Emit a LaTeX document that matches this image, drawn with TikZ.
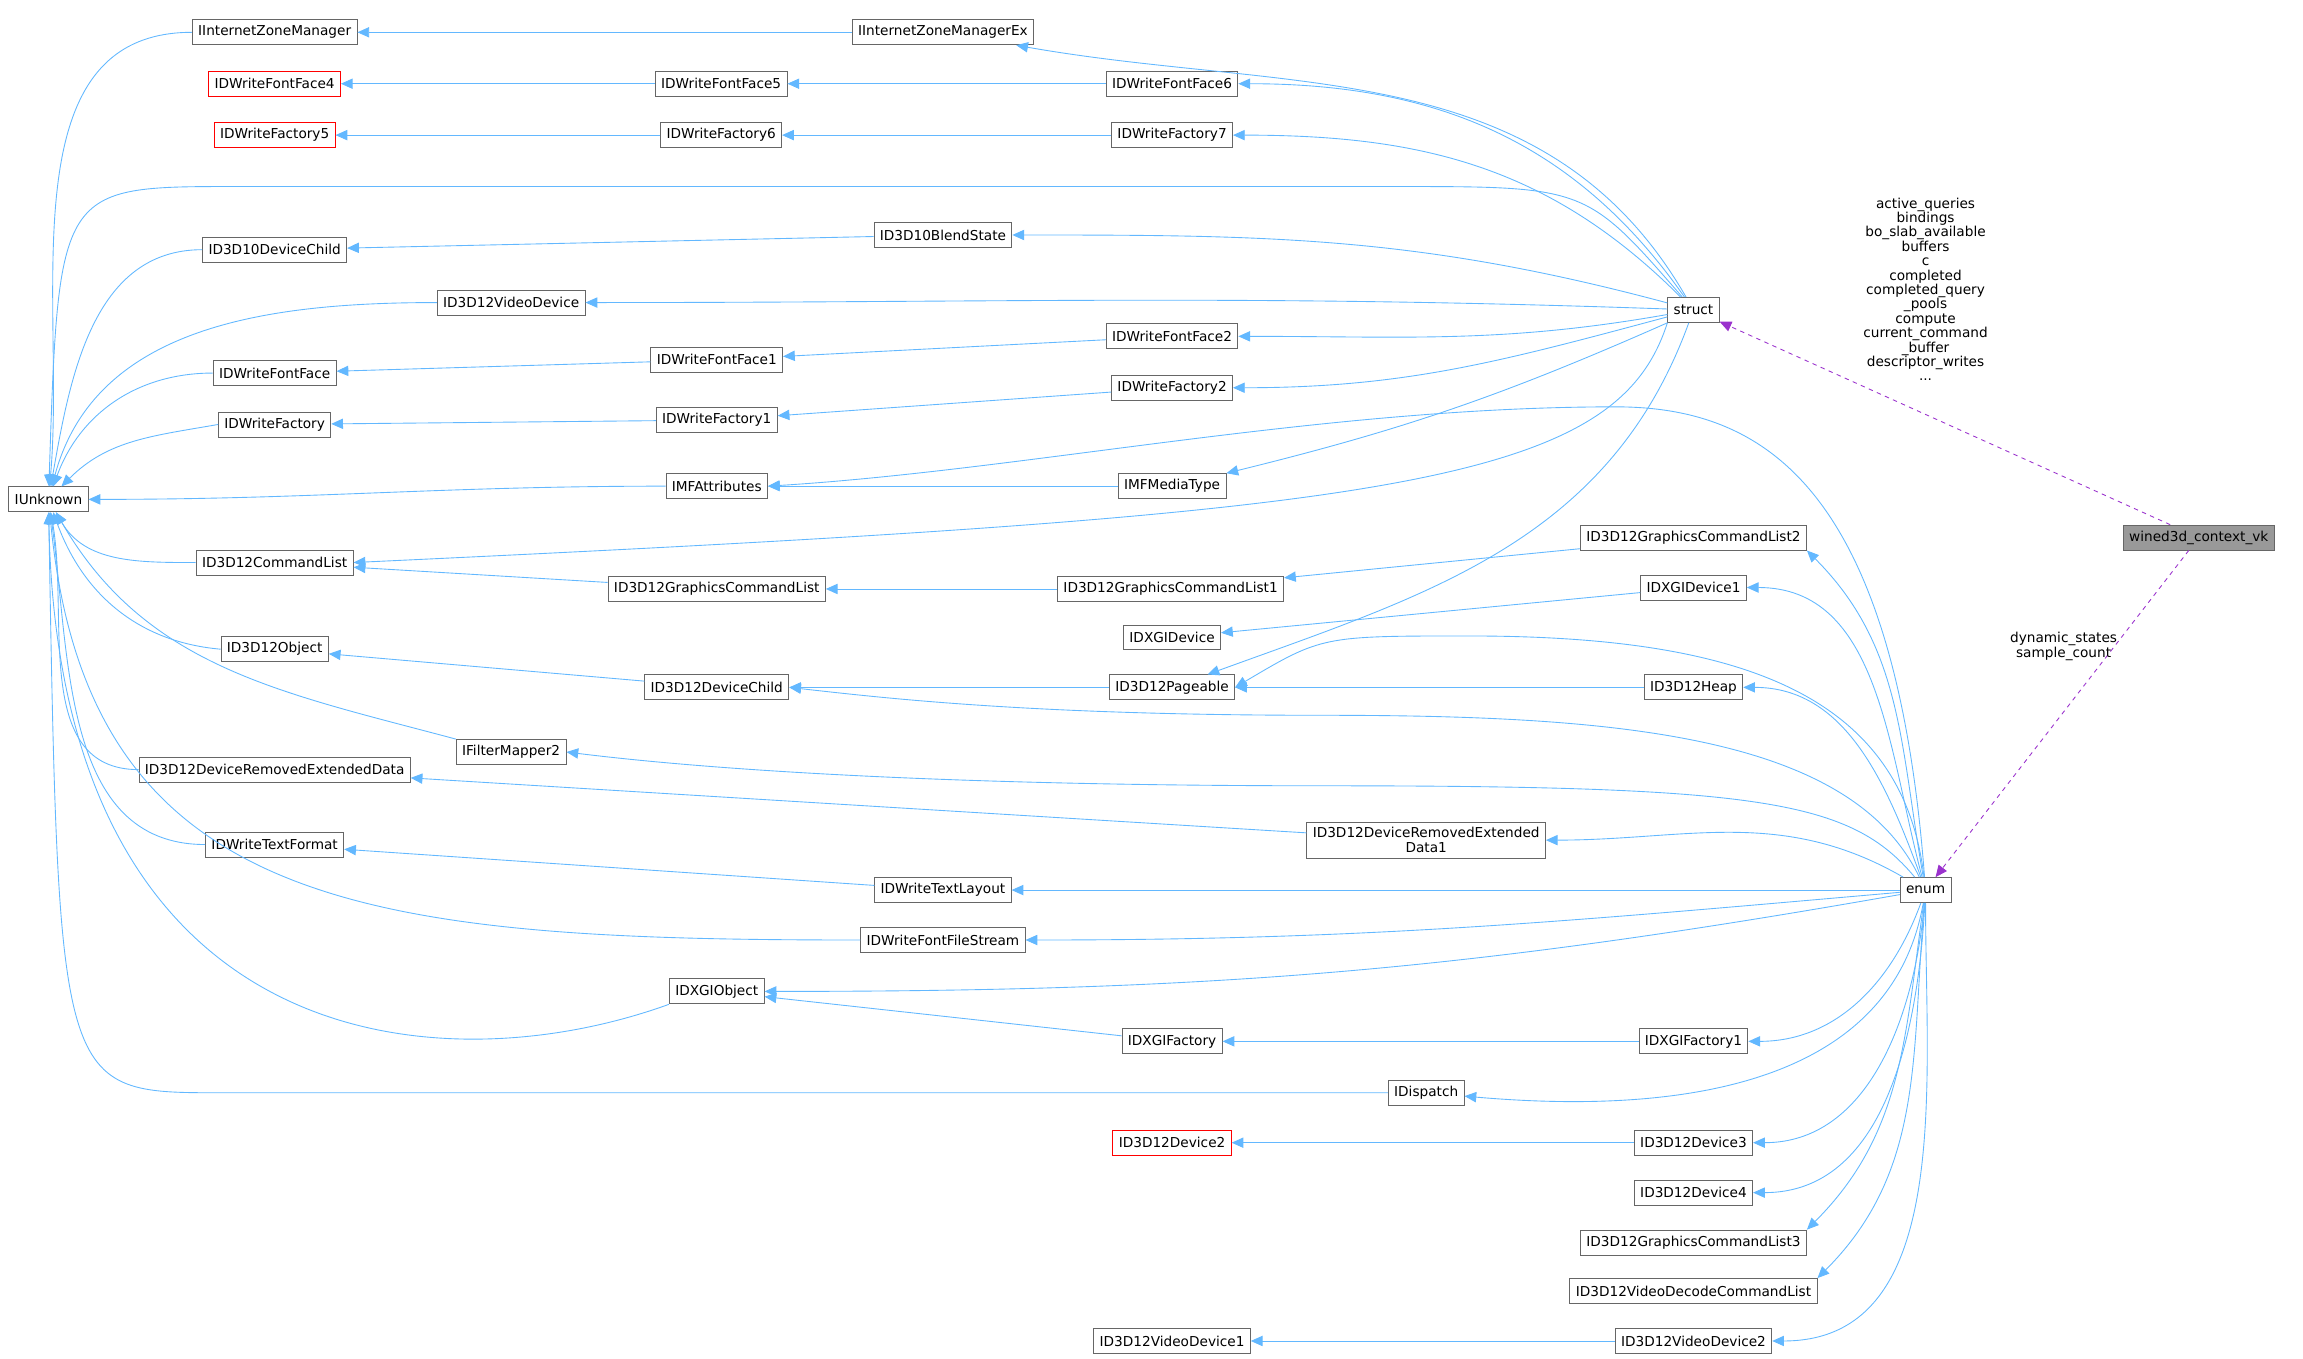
\documentclass[tikz,border=0pt]{standalone}
\usepackage{fontspec}
\setmainfont{DejaVu Sans}
\usetikzlibrary{arrows.meta}
\definecolor{inhblue}{HTML}{63B8FF}
\definecolor{usepurple}{HTML}{9A32CD}
\tikzset{
  cls/.style={draw=black!60,line width=0.6pt,inner xsep=4pt,minimum height=17pt,font=\fontsize{9.3}{10.4}\selectfont,fill=white},
  redcls/.style={cls,draw=red},
  cur/.style={cls,fill=black!40},
  inh/.style={draw=inhblue,line width=0.6pt,-{Triangle[length=8pt,width=7pt]}},
  use/.style={draw=usepurple,line width=0.6pt,dashed,-{Triangle[length=8pt,width=7pt]}},
  lbl/.style={font=\fontsize{9.3}{9.8}\selectfont,align=center}
}
\begin{document}
\begin{tikzpicture}[x=1pt,y=1pt]
\useasboundingbox (0,0) rectangle (1568,-925);
% left column
\node[cls] (IUnknown) at (33,-340) {IUnknown};
\node[cls] (IIZM) at (187,-22) {IInternetZoneManager};
\node[redcls] (FF4) at (187,-57) {IDWriteFontFace4};
\node[redcls] (WF5) at (187,-92) {IDWriteFactory5};
\node[cls] (D10DC) at (187,-170) {ID3D10DeviceChild};
\node[cls] (FF) at (187,-254) {IDWriteFontFace};
\node[cls] (WF) at (187,-289) {IDWriteFactory};
\node[cls] (CL) at (187,-383) {ID3D12CommandList};
\node[cls] (Obj) at (187,-442) {ID3D12Object};
\node[cls] (DRED) at (187,-524) {ID3D12DeviceRemovedExtendedData};
\node[cls] (TF) at (187,-575) {IDWriteTextFormat};
% second column
\node[cls] (VD) at (348,-206) {ID3D12VideoDevice};
\node[cls] (FM2) at (348,-512) {IFilterMapper2};
% third column
\node[cls] (FF5) at (491,-57) {IDWriteFontFace5};
\node[cls] (WF6) at (491,-92) {IDWriteFactory6};
\node[cls] (FF1) at (488,-245) {IDWriteFontFace1};
\node[cls] (WF1) at (488,-286) {IDWriteFactory1};
\node[cls] (MFA) at (488,-331) {IMFAttributes};
\node[cls] (GCL) at (488,-401) {ID3D12GraphicsCommandList};
\node[cls] (DC) at (488,-468) {ID3D12DeviceChild};
\node[cls] (XO) at (488,-675) {IDXGIObject};
% fourth column
\node[cls] (IIZMEx) at (642,-22) {IInternetZoneManagerEx};
\node[cls] (BS) at (642,-160) {ID3D10BlendState};
\node[cls] (TL) at (642,-606) {IDWriteTextLayout};
\node[cls] (FFS) at (642,-640) {IDWriteFontFileStream};
% fifth column
\node[cls] (FF6) at (798,-57) {IDWriteFontFace6};
\node[cls] (WF7) at (798,-92) {IDWriteFactory7};
\node[cls] (FF2) at (798,-229) {IDWriteFontFace2};
\node[cls] (WF2) at (798,-264) {IDWriteFactory2};
\node[cls] (MT) at (798,-331) {IMFMediaType};
\node[cls] (GCL1) at (797,-401) {ID3D12GraphicsCommandList1};
\node[cls] (XD) at (798,-434) {IDXGIDevice};
\node[cls] (Pg) at (798,-468) {ID3D12Pageable};
\node[cls] (XF) at (798,-709) {IDXGIFactory};
\node[redcls] (Dev2) at (798,-778) {ID3D12Device2};
\node[cls] (VD1) at (798,-913) {ID3D12VideoDevice1};
\node[cls,align=center] (DRED1) at (971,-572) {ID3D12DeviceRemovedExtended\\Data1};
\node[cls] (Disp) at (971,-744) {IDispatch};
% sixth column
\node[cls] (struct) at (1153,-211) {struct};
\node[cls] (GCL2) at (1153,-366) {ID3D12GraphicsCommandList2};
\node[cls] (XD1) at (1153,-400) {IDXGIDevice1};
\node[cls] (Heap) at (1153,-468) {ID3D12Heap};
\node[cls] (XF1) at (1153,-709) {IDXGIFactory1};
\node[cls] (Dev3) at (1153,-778) {ID3D12Device3};
\node[cls] (Dev4) at (1153,-812) {ID3D12Device4};
\node[cls] (GCL3) at (1153,-846) {ID3D12GraphicsCommandList3};
\node[cls] (VDCL) at (1153,-879) {ID3D12VideoDecodeCommandList};
\node[cls] (VD2) at (1153,-913) {ID3D12VideoDevice2};
\node[cls] (enum) at (1311,-606) {enum};
\node[cur] (ctx) at (1497,-366) {wined3d\_context\_vk};
% IUnknown edges
\draw[inh] (IIZM.west) to[out=180,in=85] (IUnknown);
\draw[inh] (struct) .. controls (1080,-127) .. (950,-127) -- (160,-127) .. controls (40,-127) .. (IUnknown);
\draw[inh] (D10DC.west) to[out=180,in=80] (IUnknown);
\draw[inh] (VD.west) to[out=180,in=75] (IUnknown);
\draw[inh] (FF.west) to[out=180,in=70] (IUnknown);
\draw[inh] (WF.west) to[out=190,in=45] (IUnknown);
\draw[inh] (MFA.west) to[out=180,in=0] (IUnknown);
\draw[inh] (CL.west) to[out=180,in=-60] (IUnknown);
\draw[inh] (Obj.west) to[out=175,in=-70] (IUnknown);
\draw[inh] (FM2.north west) to[out=165,in=-60] (IUnknown);
\draw[inh] (DRED.west) to[out=180,in=-80] (IUnknown);
\draw[inh] (TF.west) to[out=180,in=-82] (IUnknown);
\draw[inh] (FFS.west) .. controls (250,-640) and (60,-620) .. (IUnknown);
\draw[inh] (XO.south west) .. controls (300,-740) and (40,-720) .. (IUnknown);
\draw[inh] (Disp.west) -- (150,-744) .. controls (40,-744) .. (IUnknown);
% chains towards struct
\draw[inh] (IIZMEx) -- (IIZM);
\draw[inh] (struct) to[out=120,in=-10] (IIZMEx);
\draw[inh] (FF5) -- (FF4);
\draw[inh] (FF6) -- (FF5);
\draw[inh] (struct) to[out=125,in=0] (FF6);
\draw[inh] (WF6) -- (WF5);
\draw[inh] (WF7) -- (WF6);
\draw[inh] (struct) to[out=135,in=0] (WF7);
\draw[inh] (BS) -- (D10DC);
\draw[inh] (struct) to[out=165,in=0] (BS);
\draw[inh] (struct) to[out=178,in=0] (VD);
\draw[inh] (FF1) -- (FF);
\draw[inh] (FF2) -- (FF1);
\draw[inh] (struct) to[out=190,in=0] (FF2);
\draw[inh] (WF1) -- (WF);
\draw[inh] (WF2) -- (WF1);
\draw[inh] (struct) to[out=195,in=0] (WF2);
\draw[inh] (MT) -- (MFA);
\draw[inh] (struct.south west) to[bend left=5] (MT.north east);
\draw[inh] (struct.south west) .. controls (1100,-330) and (950,-350) .. (CL.east);
\draw[inh] (struct) to[out=250,in=20] (Pg);
% chains towards enum
\draw[inh] (enum) .. controls (1290,-330) and (1200,-277) .. (1100,-277) .. controls (900,-277) and (700,-320) .. (MFA.east);
\draw[inh] (GCL) -- (CL);
\draw[inh] (GCL1) -- (GCL);
\draw[inh] (GCL2) -- (GCL1);
\draw[inh] (enum) to[out=100,in=-45] (GCL2.south east);
\draw[inh] (XD1) -- (XD);
\draw[inh] (enum) to[out=105,in=0] (XD1);
\draw[inh] (DC) -- (Obj);
\draw[inh] (Pg) -- (DC);
\draw[inh] (Heap) -- (Pg);
\draw[inh] (enum) to[out=110,in=0] (Heap);
\draw[inh] (enum) .. controls (1295,-470) and (1180,-433) .. (1000,-433) .. controls (900,-433) .. (Pg.east);
\draw[inh] (enum) .. controls (1260,-500) and (1100,-487) .. (900,-487) .. controls (700,-487) and (600,-475) .. (DC.east);
\draw[inh] (enum) .. controls (1260,-545) and (1200,-535) .. (900,-535) .. controls (600,-535) and (450,-520) .. (FM2.east);
\draw[inh] (DRED1) -- (DRED);
\draw[inh] (enum) to[out=150,in=0] (DRED1);
\draw[inh] (TL) -- (TF);
\draw[inh] (enum) -- (TL);
\draw[inh] (enum) to[out=185,in=0] (FFS);
\draw[inh] (enum) to[out=190,in=0] (XO);
\draw[inh] (XF) -- (XO);
\draw[inh] (XF1) -- (XF);
\draw[inh] (enum) to[out=250,in=0] (XF1);
\draw[inh] (enum) to[out=260,in=-5] (Disp);
\draw[inh] (Dev3) -- (Dev2);
\draw[inh] (enum) to[out=265,in=0] (Dev3);
\draw[inh] (enum) to[out=267,in=0] (Dev4);
\draw[inh] (enum) to[out=262,in=45] (GCL3.north east);
\draw[inh] (enum) to[out=265,in=45] (VDCL.north east);
\draw[inh] (VD2) -- (VD1);
\draw[inh] (enum) to[out=270,in=0] (VD2);
% usage edges
\draw[use] (ctx) -- (struct);
\draw[use] (ctx) -- (enum);
\node[lbl] (lblStruct) at (1311,-197) {active\_queries\\bindings\\bo\_slab\_available\\buffers\\c\\completed\\completed\_query\\\_pools\\compute\\current\_command\\\_buffer\\descriptor\_writes\\...};
\node[lbl] (lblEnum) at (1405,-440) {dynamic\_states\\sample\_count};
\end{tikzpicture}
\end{document}
